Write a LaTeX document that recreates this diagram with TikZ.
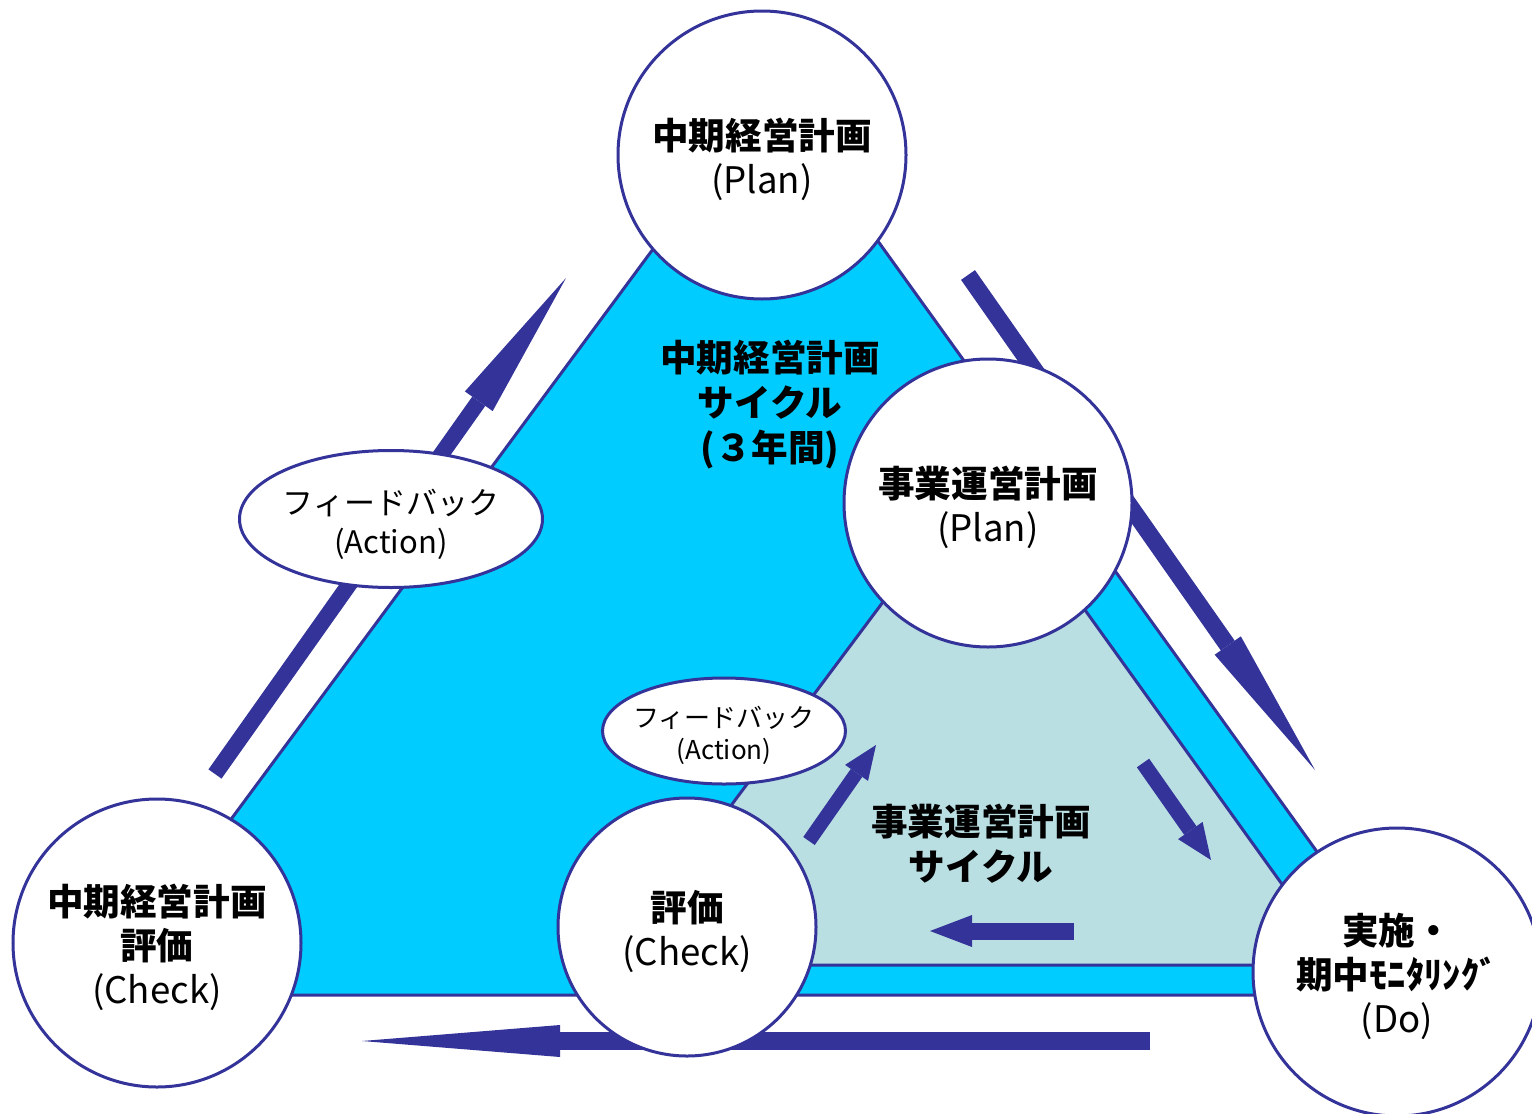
\documentclass[tikz,border=0pt]{standalone}
\usepackage{fontspec}
\newfontfamily\jp{Noto Sans CJK JP}
\usetikzlibrary{arrows.meta,shapes.geometric}
\definecolor{navy}{HTML}{333399}
\definecolor{cyanf}{HTML}{00CCFF}
\definecolor{lightf}{HTML}{B9DFE3}
\newcommand\dnA{\rule{0pt}{20.5pt}}
\newcommand\dnB{\rule{0pt}{18pt}}
\newcommand\dnC{\rule{0pt}{15pt}}
\tikzset{
  circ/.style={circle,draw=navy,line width=1.5pt,fill=white,inner sep=0pt,align=center,
    font=\jp\fontsize{18.3}{22}\selectfont},
  bigcirc/.style={circ,minimum size=144pt},
  midcirc/.style={circ,minimum size=129pt},
  ell/.style={ellipse,draw=navy,line width=1.5pt,fill=white,inner sep=0pt,align=center},
  tri/.style={draw=navy,line width=1.5pt,line join=miter},
  lbl/.style={align=center,font=\jp\bfseries\fontsize{18.3}{22.5}\selectfont},
  fatarrow/.style n args={3}{draw=navy,line width=#1,-{Triangle[length=#2,width=#3,line width=0pt,fill=navy]}},
}
\begin{document}
\begin{tikzpicture}[x=0.5pt,y=-0.5pt]
\useasboundingbox (0,0) rectangle (1532,1114);
\clip (0,0) rectangle (1532,1114);
% triangles
\draw[tri,fill=cyanf] (770,91) -- (101,995) -- (1420,995) -- cycle;
\draw[tri,fill=lightf] (983,468) -- (612,965) -- (1340,965) -- cycle;
% arrow end points
\coordinate (la1) at (215,774);  \coordinate (la2) at (566,278);
\coordinate (ra1) at (968,275);  \coordinate (ra2) at (1315,770);
\coordinate (ba1) at (1150,1041); \coordinate (ba2) at (362,1041);
\coordinate (sa1) at (809,841);  \coordinate (sa2) at (876,745);
\coordinate (sb1) at (1143,763); \coordinate (sb2) at (1211,860);
\coordinate (sc1) at (1074,931); \coordinate (sc2) at (930,931);
% arrows
\draw[fatarrow={8pt}{75.5pt}{17pt}] (la1) -- (la2);
\draw[fatarrow={8.5pt}{76pt}{16pt}] (ra1) -- (ra2);
\draw[fatarrow={9pt}{99pt}{16pt}] (ba1) -- (ba2);
\draw[fatarrow={7pt}{17pt}{14pt}] (sa1) -- (sa2);
\draw[fatarrow={7.5pt}{18pt}{15pt}] (sb1) -- (sb2);
\draw[fatarrow={8.5pt}{21pt}{16pt}] (sc1) -- (sc2);
% circles
\node[bigcirc] (plan) at (762,155) {\dnA\bfseries 中期経営計画\\(Plan)};
\node[bigcirc] (plan2) at (988,503) {\dnA\bfseries 事業運営計画\\(Plan)};
\node[bigcirc] (check) at (157,943) {\dnA\bfseries 中期経営計画\\\bfseries 評価\\(Check)};
\node[midcirc] (check2) at (687,927) {\dnA\bfseries 評価\\(Check)};
\node[bigcirc] (do) at (1397,972) {\dnA\bfseries 実施・\\\bfseries 期中ﾓﾆﾀﾘﾝｸﾞ\\(Do)};
% ellipses
\node[ell,inner xsep=-1pt,minimum width=151.5pt,minimum height=68.5pt,font=\jp\fontsize{15.5}{19.5}\selectfont] (act) at (391,519) {\dnB フィードバック\\(Action)};
\node[ell,inner xsep=-4pt,minimum width=121.5pt,minimum height=53pt,font=\jp\fontsize{13}{16}\selectfont] (act2) at (724,731) {\dnC フィードバック\\(Action)};
% labels
\node[lbl] (cyc1) at (770,405) {中期経営計画\\サイクル\\(３年間)};
\node[lbl] (cyc2) at (981,844) {事業運営計画\\サイクル};
\end{tikzpicture}
\end{document}
